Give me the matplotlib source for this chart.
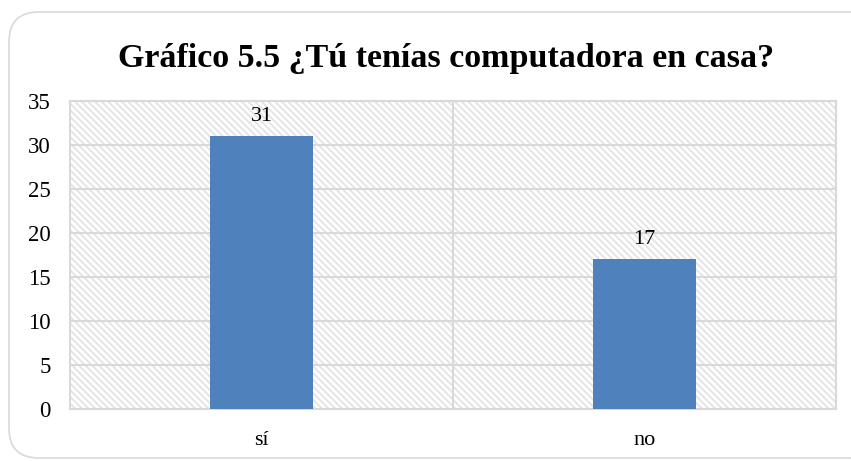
import matplotlib
matplotlib.use("Agg")
import matplotlib.pyplot as plt
from matplotlib.patches import Rectangle, FancyBboxPatch

categories = ["sí", "no"]
values = [31, 17]
yticks = [0, 5, 10, 15, 20, 25, 30, 35]
title = "Gráfico 5.5 ¿Tú tenías computadora en casa?"

plt.rcParams['font.family'] = ['Liberation Serif', 'DejaVu Serif']
plt.rcParams['hatch.linewidth'] = 1.3

W, H = 851, 461
fig = plt.figure(figsize=(W / 100, H / 100), dpi=100)
# rounded border (extends beyond the right edge)
border = FancyBboxPatch((9 / W, 3 / H), (880 - 9) / W, (H - 12 - 3) / H,
                        boxstyle="round,pad=0,rounding_size=0.035",
                        transform=fig.transFigure, facecolor='none', edgecolor='#d9d9d9', linewidth=1.2,
                        mutation_aspect=W / H, zorder=-1)
fig.patches.append(border)

ax = fig.add_axes([70 / W, 1 - 409 / H, (836 - 70) / W, (409 - 101) / H])
ax.set_facecolor('none')
x = list(range(len(categories)))
ax.set_xlim(-0.5, len(categories) - 0.5)
ax.set_ylim(0, 35)

bg = Rectangle((0, 0), 1, 1, transform=ax.transAxes, facecolor='white', edgecolor='#e3e3e3',
               linewidth=0, hatch='\\\\\\\\\\', zorder=0)
ax.add_patch(bg)

for t in yticks:
    ax.axhline(t, color='#d9d9d9', linewidth=1.5, zorder=1)
for b in [0.5]:
    ax.axvline(b, color='#d9d9d9', linewidth=1.5, zorder=1)

bars = ax.bar(x, values, width=0.27, color='#4f81bd', zorder=3)
for xi, v in zip(x, values):
    ax.text(xi, v + 1.2, str(v), ha='center', va='bottom', fontsize=16, color='#000000', zorder=4)

ax.set_xticks(x)
ax.set_xticklabels(categories, fontsize=16)
ax.set_yticks(yticks)
ax.set_yticklabels([str(t) for t in yticks], fontsize=16.5)
ax.tick_params(length=0)
ax.tick_params(axis='x', pad=16)
ax.tick_params(axis='y', pad=14)
for s in ax.spines.values():
    s.set_color('#d9d9d9')
    s.set_linewidth(1.5)

fig.text(446 / W, 1 - 59 / H, title, ha='center', va='center', fontsize=24.5, fontweight='bold')

fig.savefig("out.png", dpi=100)
